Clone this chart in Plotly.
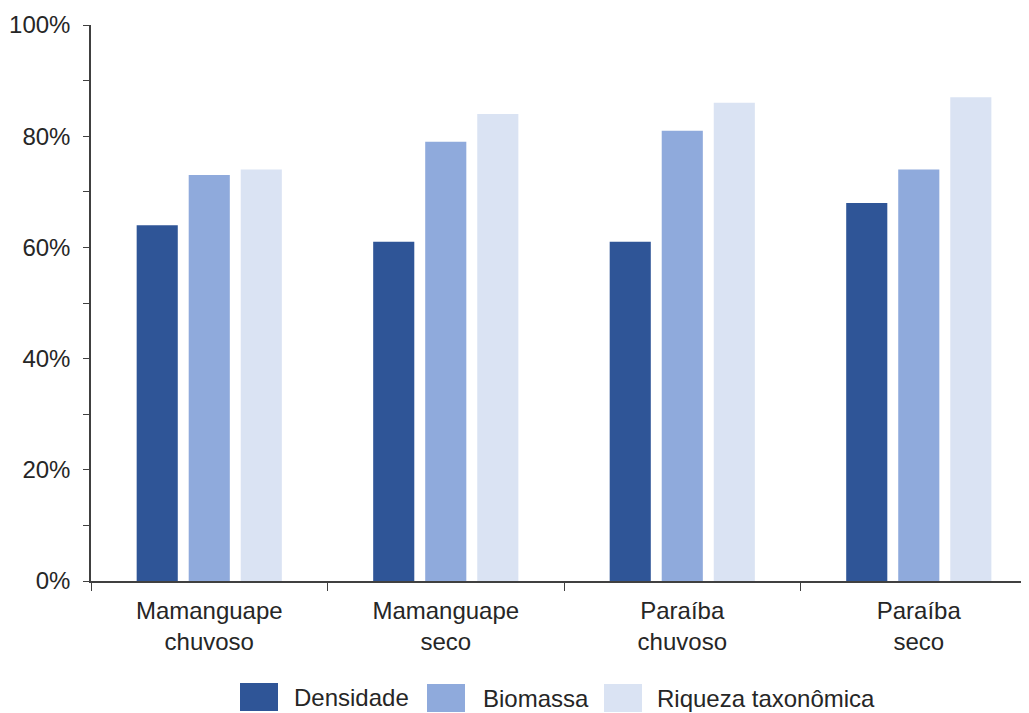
import plotly.graph_objects as go

categories = ["Mamanguape<br>chuvoso", "Mamanguape<br>seco", "Paraíba<br>chuvoso", "Paraíba<br>seco"]
densidade = [64, 61, 61, 68]
biomassa = [73, 79, 81, 74]
riqueza = [74, 84, 86, 87]
series_names = ["Densidade", "Biomassa", "Riqueza taxonômica"]
colors = ["#2F5597", "#8FAADC", "#DAE3F3"]
y_tick_vals = list(range(0, 101, 10))
y_tick_text = [f"{v}%" if v % 20 == 0 else "" for v in y_tick_vals]

OFF = 8  # default page body margin
W, H = 1029 - OFF, 713 - OFF
L, R, T = 91 - OFF, 0, 25 - OFF
B = H - (581 - OFF)
pw, ph = W - L - R, H - T - B

fig = go.Figure()
for name, vals, c in zip(series_names, [densidade, biomassa, riqueza], colors):
    fig.add_trace(go.Bar(x=categories, y=vals, name=name, marker_color=c,
                         marker_line_width=0, showlegend=False))

font = dict(family="Liberation Sans, Arial, sans-serif", size=24, color="#262626")

# custom legend (large swatches like the original), positions in page px
legend_items = [  # swatch left, text left, center y
    (240, 292, 697),
    (427, 481, 698),
    (604, 655, 698),
]
shapes = []
annotations = []
for (sx, tx, cy), name, c in zip(legend_items, series_names, colors):
    sx, tx, cy = sx - OFF, tx - OFF, cy - OFF
    shapes.append(dict(type="rect", xref="paper", yref="paper",
                       x0=(sx - L) / pw, x1=(sx + 38 - L) / pw,
                       y0=(H - B - (cy + 14)) / ph, y1=(H - B - (cy - 14)) / ph,
                       fillcolor=c, line_width=0))
    annotations.append(dict(text=name, xref="paper", yref="paper",
                            x=(tx - L) / pw, y=(H - B - cy) / ph,
                            xanchor="left", yanchor="middle", showarrow=False,
                            font=dict(family=font["family"], size=24, color="#262626")))

fig.update_layout(
    width=W, height=H,
    margin=dict(l=L, r=R, t=T, b=B),
    paper_bgcolor="white", plot_bgcolor="white",
    barmode="group", bargap=0.34, bargroupgap=0.21,
    font=font,
    showlegend=False,
    shapes=shapes, annotations=annotations,
    xaxis=dict(range=[-0.5, 3.466], showline=True, linecolor="#404040", linewidth=1.5,
               ticks="outside", tickson="boundaries", ticklen=8, tickcolor="#404040",
               showgrid=False, tickfont=font, automargin=False, ticklabelstandoff=7),
    yaxis=dict(range=[0, 100], showline=True, linecolor="#404040", linewidth=1.5,
               tickvals=y_tick_vals, ticktext=y_tick_text, ticks="outside", ticklen=6,
               tickcolor="#404040", showgrid=False, zeroline=False,
               tickfont=font, automargin=False, ticklabelstandoff=8),
)
fig.write_html("out.html")
